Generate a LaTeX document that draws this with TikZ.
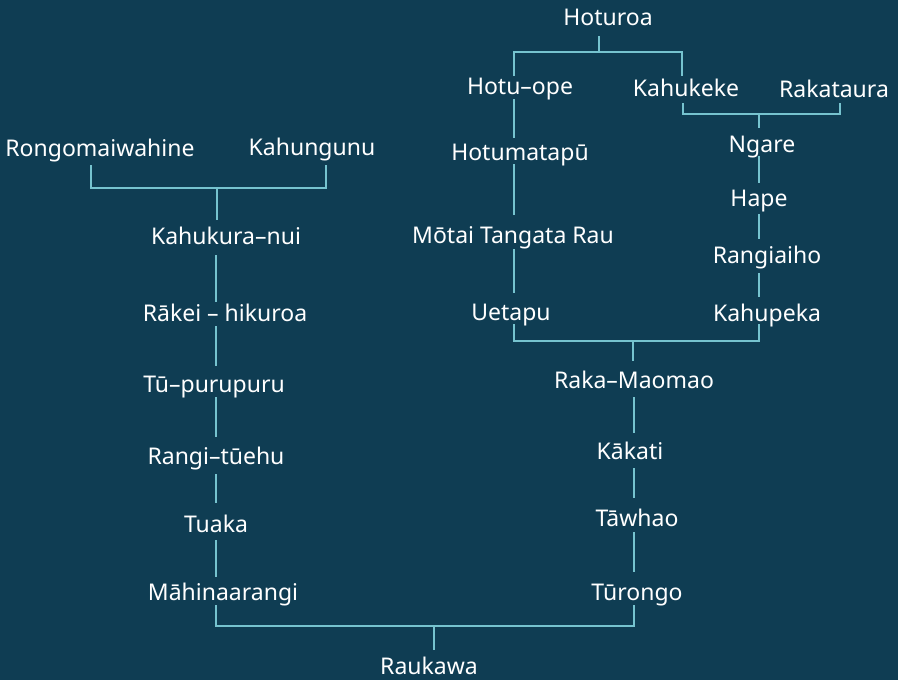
\documentclass[tikz,border=0pt]{standalone}
\usepackage{fontspec}
\setmainfont{Noto Sans}
\definecolor{bg}{HTML}{0F3D53}
\definecolor{linec}{HTML}{76C3CF}
\tikzset{
  person/.style={anchor=base, inner sep=0pt, text=white, font=\fontsize{23}{27}\selectfont},
  link/.style={draw=linec, line width=1.8pt}
}
\begin{document}
\begin{tikzpicture}[x=1pt, y=-1pt]
\fill[bg] (0,0) rectangle (898,680);
\useasboundingbox (0,0) rectangle (898,680);

% right tree
\node[person] (hoturoa) at (608,25) {Hoturoa};
\node[person] (hotuope) at (520,94) {Hotu–ope};
\node[person] (kahukeke) at (686,96) {Kahukeke};
\node[person] (rakataura) at (834,97) {Rakataura};
\node[person] (hotumatapu) at (520,160) {Hotumatapū};
\node[person] (ngare) at (762,152) {Ngare};
\node[person] (hape) at (759,206) {Hape};
\node[person] (motai) at (513,243) {Mōtai Tangata Rau};
\node[person] (rangiaiho) at (767,263) {Rangiaiho};
\node[person] (uetapu) at (511,320) {Uetapu};
\node[person] (kahupeka) at (767,321) {Kahupeka};
\node[person] (rakamaomao) at (634,388) {Raka–Maomao};
\node[person] (kakati) at (630,459) {Kākati};
\node[person] (tawhao) at (637,526) {Tāwhao};
\node[person] (turongo) at (637,600) {Tūrongo};

% left tree
\node[person] (rongo) at (100,156) {Rongomaiwahine};
\node[person] (kahungunu) at (312,155) {Kahungunu};
\node[person] (kahukura) at (226,244) {Kahukura–nui};
\node[person] (rakei) at (225,321) {Rākei – hikuroa};
\node[person] (tupuru) at (214,392) {Tū–purupuru};
\node[person] (rangitu) at (216,464) {Rangi–tūehu};
\node[person] (tuaka) at (216,532) {Tuaka};
\node[person] (mahina) at (223,600) {Māhinaarangi};
\node[person] (raukawa) at (429,674) {Raukawa};

% junctions
\coordinate (jhot) at (599,52);
\coordinate (jkr) at (759,114);
\coordinate (jue) at (633,341);
\coordinate (jrk) at (217,188);
\coordinate (jmt) at (434,626);

% Hoturoa -> Hotu-ope, Kahukeke
\draw[link] (599,36) -- (jhot);
\draw[link] (514,76) -- (514,52) -- (682,52) -- (682,76);
% Hotu-ope line
\draw[link] (514,99) -- (514,138);
\draw[link] (514,164) -- (514,215);
\draw[link] (514,249) -- (514,293);
% Kahukeke + Rakataura -> Ngare
\draw[link] (683,103) -- (683,114) -- (840,114) -- (840,103);
\draw[link] (jkr) -- (759,128);
\draw[link] (759,156) -- (759,183);
\draw[link] (759,214) -- (759,239);
\draw[link] (759,273) -- (759,297);
% Uetapu + Kahupeka -> Raka-Maomao
\draw[link] (514,324) -- (514,341) -- (759,341) -- (759,324);
\draw[link] (jue) -- (633,361);
\draw[link] (634,397) -- (634,433);
\draw[link] (634,468) -- (634,498);
\draw[link] (634,532) -- (634,572);
% Rongomaiwahine + Kahungunu -> Kahukura-nui
\draw[link] (91,165) -- (91,188) -- (326,188) -- (326,165);
\draw[link] (jrk) -- (217,220);
\draw[link] (216,255) -- (216,302);
\draw[link] (216,326) -- (216,366);
\draw[link] (216,397) -- (216,437);
\draw[link] (216,474) -- (216,503);
\draw[link] (216,540) -- (216,577);
% Mahinaarangi + Turongo -> Raukawa
\draw[link] (216,605) -- (216,626) -- (634,626) -- (634,605);
\draw[link] (jmt) -- (434,650);
\end{tikzpicture}
\end{document}
